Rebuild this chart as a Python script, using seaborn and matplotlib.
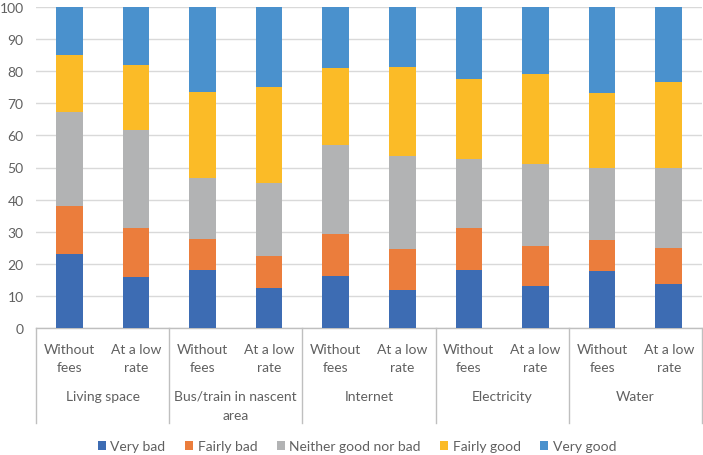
import matplotlib
matplotlib.use("Agg")
import matplotlib.pyplot as plt
import seaborn as sns
import pandas as pd
import numpy as np
from matplotlib.patches import Patch
from matplotlib.lines import Line2D
import matplotlib.transforms as mtransforms

groups = ["Living space", "Bus/train in nascent\narea", "Internet", "Electricity", "Water"]
subcats = ["Without\nfees", "At a low\nrate"]
levels = ["Very bad", "Fairly bad", "Neither good nor bad", "Fairly good", "Very good"]
colors = ["#3D6CB3", "#EB7D3C", "#B2B3B4", "#FBBB27", "#4A91CD"]

very_bad    = [23.1, 15.9, 18.0, 12.4, 16.2, 11.7, 18.0, 13.1, 17.9, 13.6]
fairly_bad  = [15.0, 15.3,  9.6, 10.0, 13.1, 12.8, 13.2, 12.6,  9.5, 11.4]
neither     = [29.2, 30.6, 19.2, 22.9, 27.8, 29.0, 21.5, 25.4, 22.3, 24.7]
fairly_good = [17.9, 20.2, 26.8, 29.8, 24.0, 27.8, 24.8, 28.1, 23.6, 27.0]
very_good   = [14.8, 18.0, 26.4, 24.9, 18.9, 18.7, 22.5, 20.8, 26.7, 23.3]

series = [very_bad, fairly_bad, neither, fairly_good, very_good]
bar_ids = [f"{g}|{s}" for g in groups for s in subcats]
df = pd.DataFrame({"bar": bar_ids})
cum = np.zeros(len(bar_ids))
for name, vals in zip(levels, series):
    cum = cum + np.array(vals)
    df[name] = cum.copy()

plt.rcParams["font.family"] = ["Lato", "DejaVu Sans"]
text_color = "#606060"
fs = 10
fig = plt.figure(figsize=(7.03, 4.56), dpi=100)
ax = fig.add_axes([36 / 703, 1 - 329 / 456, 666 / 703, 321 / 456])

for i in reversed(range(len(levels))):
    sns.barplot(data=df, x="bar", y=levels[i], order=bar_ids, color=colors[i],
                width=0.4, errorbar=None, ax=ax, saturation=1, linewidth=0,
                zorder=3)

ax.set_xlim(-0.5, len(bar_ids) - 0.5)
ax.set_ylim(0, 100)
ax.set_yticks(range(0, 101, 10))
ax.set_xlabel("")
ax.set_ylabel("")
ax.grid(axis="y", color="#D9D9D9", linewidth=1, zorder=0)
ax.set_axisbelow(True)
for s in ["left", "right", "top"]:
    ax.spines[s].set_visible(False)
ax.spines["bottom"].set_color("#BFBFBF")
ax.spines["bottom"].set_linewidth(1)
ax.set_xticks(range(len(bar_ids)))
ax.set_xticklabels([s for g in groups for s in subcats], fontsize=fs,
                   color=text_color, linespacing=1.6)
ax.tick_params(axis="x", length=0, pad=10.5)
ax.tick_params(axis="y", length=0, pad=9, labelsize=fs, labelcolor=text_color)

trans = mtransforms.blended_transform_factory(ax.transData, ax.transAxes)
for k in range(len(groups) + 1):
    xpos = -0.5 + 2 * k
    ax.add_line(Line2D([xpos, xpos], [0, -95 / 321], transform=trans,
                       color="#BFBFBF", linewidth=1, clip_on=False))
for k, g in enumerate(groups):
    ax.text(0.5 + 2 * k, -62 / 321, g, transform=trans, ha="center", va="top",
            fontsize=fs, color=text_color, linespacing=1.7)

handles = [Patch(facecolor=c, edgecolor="none") for c in colors]
fig.legend(handles, levels, loc="center", bbox_to_anchor=(357 / 703, 1 - 447 / 456),
           ncol=5, frameon=False, fontsize=fs, labelcolor=text_color,
           handlelength=0.6, handleheight=0.6, handletextpad=0.3,
           columnspacing=1.4)

fig.savefig("out.png", dpi=100)
